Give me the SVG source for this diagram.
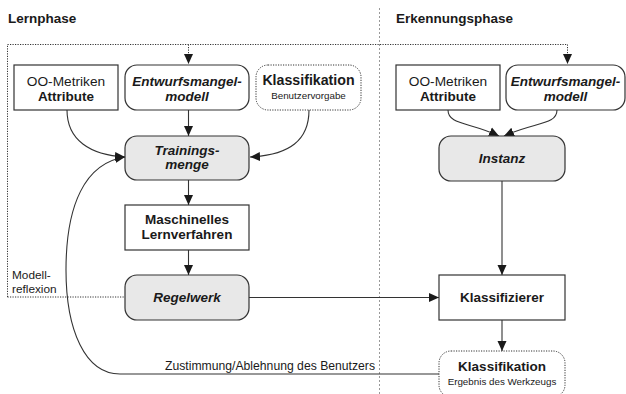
<svg xmlns="http://www.w3.org/2000/svg" width="626" height="394" viewBox="0 0 626 394">
<defs>
<marker id="ah" viewBox="0 0 10 10" refX="10" refY="5" markerWidth="10" markerHeight="10" markerUnits="userSpaceOnUse" orient="auto">
<path d="M0,0.5 L10,5 L0,9.5 Z" fill="#1a1a1a"/>
</marker>
</defs>
<style>
text{font-family:"Liberation Sans",Arial,sans-serif;fill:#1a1a1a;text-anchor:middle}
.t{font-size:13.5px;font-weight:bold;text-anchor:start}
.n{font-size:13.7px}
.b{font-size:13.5px;font-weight:bold}
.k{font-size:14.2px;font-weight:bold}
.bi{font-size:13.5px;font-weight:bold;font-style:italic}
.s{font-size:9.8px}
.l{font-size:11.8px;text-anchor:start}
.z{font-size:12.2px;text-anchor:start}
.box{fill:#fff;stroke:#333;stroke-width:1.2}
.gray{fill:#e8e8e8;stroke:#333;stroke-width:1.2}
.dbox{fill:#fff;stroke:#333;stroke-width:1;stroke-dasharray:1.2,1.3}
.c{fill:none;stroke:#333;stroke-width:1.1}
.d{fill:none;stroke:#333;stroke-width:1;stroke-dasharray:1.2,1.3}
.sep{fill:none;stroke:#999;stroke-width:1;stroke-dasharray:2,2}
</style>
<line class="sep" x1="379.5" y1="8" x2="379.5" y2="394"/>
<text class="t" x="8" y="23">Lernphase</text>
<text class="t" x="396" y="23">Erkennungsphase</text>
<g id="connectors">
<path class="d" d="M7.5,297 L7.5,44.5 L567.5,44.5 L567.5,64" marker-end="url(#ah)"/>
<path class="d" d="M188.5,44.5 L188.5,64" marker-end="url(#ah)"/>
<path class="d" d="M7.5,297 L125,297"/>
<path class="c" d="M67,110 C67,140 90,155 125,157" marker-end="url(#ah)"/>
<path class="c" d="M309,110 C309,140 290,155 250,157" marker-end="url(#ah)"/>
<path class="c" d="M188.5,110 L188.5,136" marker-end="url(#ah)"/>
<path class="c" d="M188.5,180 L188.5,205" marker-end="url(#ah)"/>
<path class="c" d="M188.5,250 L188.5,275" marker-end="url(#ah)"/>
<path class="c" d="M439,374 L120,374 C85,374 66,330 66,270 C66,205 85,163 125,157" marker-end="url(#ah)"/>
<path class="c" d="M249,297.5 L439,297.5" marker-end="url(#ah)"/>
<path class="c" d="M448,110 C448,125 470,122 499,136" marker-end="url(#ah)"/>
<path class="c" d="M557,110 C557,125 535,122 504,136" marker-end="url(#ah)"/>
<path class="c" d="M502,181 L502,275" marker-end="url(#ah)"/>
<path class="c" d="M502,320 L502,351" marker-end="url(#ah)"/>
</g>
<g id="oo-left"><rect class="box" x="14" y="65" width="104" height="45"/><text class="n" x="66" y="86">OO-Metriken</text><text class="b" x="66" y="101">Attribute</text></g>
<g id="entwurf-left"><rect class="box" x="125" y="65" width="124" height="45" rx="12"/><text class="bi" x="187" y="86">Entwurfsmangel-</text><text class="bi" x="187" y="101">modell</text></g>
<g id="klass-left"><rect class="dbox" x="256" y="65" width="105" height="45" rx="12"/><text class="k" x="308.5" y="85">Klassifikation</text><text class="s" x="308.5" y="99">Benutzervorgabe</text></g>
<g id="training"><rect class="gray" x="125" y="136" width="124" height="44" rx="12"/><text class="bi" x="187" y="155">Trainings-</text><text class="bi" x="187" y="169">menge</text></g>
<g id="lernverfahren"><rect class="box" x="125" y="205" width="124" height="45"/><text class="b" x="187" y="224">Maschinelles</text><text class="b" x="187" y="239">Lernverfahren</text></g>
<g id="regelwerk"><rect class="gray" x="125" y="275" width="124" height="45" rx="12"/><text class="bi" x="187" y="302">Regelwerk</text></g>
<g id="modellreflexion"><text class="l" x="12" y="279">Modell-</text><text class="l" x="12" y="293">reflexion</text></g>
<g id="feedback-label"><text class="z" x="165" y="370">Zustimmung/Ablehnung des Benutzers</text></g>
<g id="oo-right"><rect class="box" x="396" y="65" width="104" height="45"/><text class="n" x="448" y="86">OO-Metriken</text><text class="b" x="448" y="101">Attribute</text></g>
<g id="entwurf-right"><rect class="box" x="506" y="65" width="119" height="45" rx="12"/><text class="bi" x="565.5" y="86">Entwurfsmangel-</text><text class="bi" x="565.5" y="101">modell</text></g>
<g id="instanz"><rect class="gray" x="439" y="136" width="126" height="45" rx="12"/><text class="bi" x="502" y="163">Instanz</text></g>
<g id="klassifizierer"><rect class="box" x="439" y="275" width="126" height="45"/><text class="b" x="502" y="302">Klassifizierer</text></g>
<g id="klass-right"><rect class="dbox" x="439" y="351" width="126" height="46" rx="12"/><text class="b" x="502" y="371">Klassifikation</text><text class="s" x="502" y="385">Ergebnis des Werkzeugs</text></g>
</svg>
